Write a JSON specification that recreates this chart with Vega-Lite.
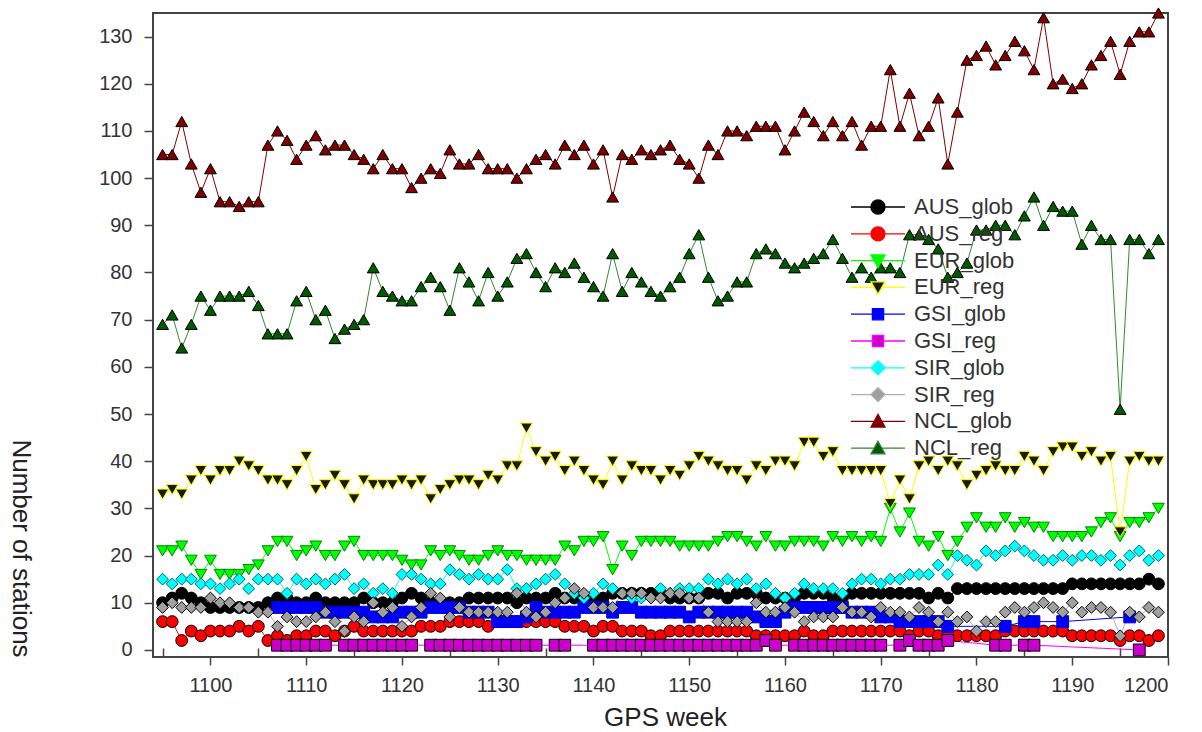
{
"$schema":"https://vega.github.io/schema/vega-lite/v6.json",
"width":1015,"height":644,
"autosize":{"type":"none"},
"padding":{"left":153,"top":13,"right":34,"bottom":75},
"background":"white",
"config":{
 "view":{"stroke":"#444","strokeWidth":2},
 "font":"Liberation Sans",
 "axis":{"labelFont":"Liberation Sans","titleFont":"Liberation Sans","labelColor":"#333","titleColor":"#222","tickColor":"#444","tickWidth":1.5,"domain":false,"grid":false,"labelFontSize":20,"titleFontSize":26,"titleFontWeight":"normal"},
 "legend":{"orient":"none","legendX":714,"legendY":183,"title":null,"padding":0,"symbolSize":196,"symbolStrokeWidth":1.3,"labelFont":"Liberation Sans","labelFontSize":22,"labelColor":"#333","labelOffset":25,"rowPadding":4.8}
},
"data":{"values":[
{"s":"AUS_glob","w":1095,"v":10},{"s":"AUS_glob","w":1096,"v":11},{"s":"AUS_glob","w":1097,"v":12},{"s":"AUS_glob","w":1098,"v":11},{"s":"AUS_glob","w":1099,"v":10},{"s":"AUS_glob","w":1100,"v":9},{"s":"AUS_glob","w":1101,"v":9},{"s":"AUS_glob","w":1102,"v":9},{"s":"AUS_glob","w":1103,"v":9},{"s":"AUS_glob","w":1104,"v":9},{"s":"AUS_glob","w":1105,"v":9},
{"s":"AUS_glob","w":1106,"v":10},{"s":"AUS_glob","w":1107,"v":11},{"s":"AUS_glob","w":1108,"v":11},{"s":"AUS_glob","w":1109,"v":10},{"s":"AUS_glob","w":1110,"v":10},{"s":"AUS_glob","w":1111,"v":11},{"s":"AUS_glob","w":1112,"v":10},{"s":"AUS_glob","w":1113,"v":10},{"s":"AUS_glob","w":1114,"v":10},{"s":"AUS_glob","w":1115,"v":10},
{"s":"AUS_glob","w":1116,"v":11},{"s":"AUS_glob","w":1117,"v":10},{"s":"AUS_glob","w":1118,"v":10},{"s":"AUS_glob","w":1119,"v":10},{"s":"AUS_glob","w":1120,"v":11},{"s":"AUS_glob","w":1121,"v":12},{"s":"AUS_glob","w":1122,"v":11},{"s":"AUS_glob","w":1123,"v":10},{"s":"AUS_glob","w":1124,"v":10},{"s":"AUS_glob","w":1125,"v":10},
{"s":"AUS_glob","w":1126,"v":10},{"s":"AUS_glob","w":1127,"v":11},{"s":"AUS_glob","w":1128,"v":11},{"s":"AUS_glob","w":1129,"v":11},{"s":"AUS_glob","w":1130,"v":11},{"s":"AUS_glob","w":1131,"v":11},{"s":"AUS_glob","w":1132,"v":10},{"s":"AUS_glob","w":1133,"v":11},{"s":"AUS_glob","w":1134,"v":11},{"s":"AUS_glob","w":1135,"v":11},
{"s":"AUS_glob","w":1136,"v":12},{"s":"AUS_glob","w":1137,"v":11},{"s":"AUS_glob","w":1138,"v":11},{"s":"AUS_glob","w":1139,"v":11},{"s":"AUS_glob","w":1140,"v":11},{"s":"AUS_glob","w":1141,"v":11},{"s":"AUS_glob","w":1142,"v":12},{"s":"AUS_glob","w":1143,"v":12},{"s":"AUS_glob","w":1144,"v":12},{"s":"AUS_glob","w":1145,"v":12},
{"s":"AUS_glob","w":1146,"v":12},{"s":"AUS_glob","w":1147,"v":12},{"s":"AUS_glob","w":1148,"v":11},{"s":"AUS_glob","w":1149,"v":11},{"s":"AUS_glob","w":1150,"v":11},{"s":"AUS_glob","w":1151,"v":11},{"s":"AUS_glob","w":1152,"v":12},{"s":"AUS_glob","w":1153,"v":12},{"s":"AUS_glob","w":1154,"v":11},{"s":"AUS_glob","w":1155,"v":12},
{"s":"AUS_glob","w":1156,"v":12},{"s":"AUS_glob","w":1157,"v":12},{"s":"AUS_glob","w":1158,"v":11},{"s":"AUS_glob","w":1159,"v":11},{"s":"AUS_glob","w":1160,"v":11},{"s":"AUS_glob","w":1161,"v":11},{"s":"AUS_glob","w":1162,"v":12},{"s":"AUS_glob","w":1163,"v":12},{"s":"AUS_glob","w":1164,"v":12},{"s":"AUS_glob","w":1165,"v":11},
{"s":"AUS_glob","w":1166,"v":11},{"s":"AUS_glob","w":1167,"v":12},{"s":"AUS_glob","w":1168,"v":12},{"s":"AUS_glob","w":1169,"v":12},{"s":"AUS_glob","w":1170,"v":12},{"s":"AUS_glob","w":1171,"v":12},{"s":"AUS_glob","w":1172,"v":12},{"s":"AUS_glob","w":1173,"v":12},{"s":"AUS_glob","w":1174,"v":12},{"s":"AUS_glob","w":1175,"v":11},
{"s":"AUS_glob","w":1176,"v":12},{"s":"AUS_glob","w":1177,"v":11},{"s":"AUS_glob","w":1178,"v":13},{"s":"AUS_glob","w":1179,"v":13},{"s":"AUS_glob","w":1180,"v":13},{"s":"AUS_glob","w":1181,"v":13},{"s":"AUS_glob","w":1182,"v":13},{"s":"AUS_glob","w":1183,"v":13},{"s":"AUS_glob","w":1184,"v":13},{"s":"AUS_glob","w":1185,"v":13},
{"s":"AUS_glob","w":1186,"v":13},{"s":"AUS_glob","w":1187,"v":13},{"s":"AUS_glob","w":1188,"v":13},{"s":"AUS_glob","w":1189,"v":13},{"s":"AUS_glob","w":1190,"v":14},{"s":"AUS_glob","w":1191,"v":14},{"s":"AUS_glob","w":1192,"v":14},{"s":"AUS_glob","w":1193,"v":14},{"s":"AUS_glob","w":1194,"v":14},{"s":"AUS_glob","w":1195,"v":14},
{"s":"AUS_glob","w":1196,"v":14},{"s":"AUS_glob","w":1197,"v":14},{"s":"AUS_glob","w":1198,"v":15},{"s":"AUS_glob","w":1199,"v":14},
{"s":"AUS_reg","w":1095,"v":6},{"s":"AUS_reg","w":1096,"v":6},{"s":"AUS_reg","w":1097,"v":2},{"s":"AUS_reg","w":1098,"v":4},{"s":"AUS_reg","w":1099,"v":3},{"s":"AUS_reg","w":1100,"v":4},{"s":"AUS_reg","w":1101,"v":4},{"s":"AUS_reg","w":1102,"v":4},{"s":"AUS_reg","w":1103,"v":5},{"s":"AUS_reg","w":1104,"v":4},{"s":"AUS_reg","w":1105,"v":5},
{"s":"AUS_reg","w":1106,"v":2},{"s":"AUS_reg","w":1107,"v":3},{"s":"AUS_reg","w":1108,"v":2},{"s":"AUS_reg","w":1109,"v":3},{"s":"AUS_reg","w":1110,"v":3},{"s":"AUS_reg","w":1111,"v":4},{"s":"AUS_reg","w":1112,"v":4},{"s":"AUS_reg","w":1113,"v":3},{"s":"AUS_reg","w":1114,"v":4},{"s":"AUS_reg","w":1115,"v":5},
{"s":"AUS_reg","w":1116,"v":4},{"s":"AUS_reg","w":1117,"v":4},{"s":"AUS_reg","w":1118,"v":4},{"s":"AUS_reg","w":1119,"v":4},{"s":"AUS_reg","w":1120,"v":4},{"s":"AUS_reg","w":1121,"v":4},{"s":"AUS_reg","w":1122,"v":5},{"s":"AUS_reg","w":1123,"v":5},{"s":"AUS_reg","w":1124,"v":5},{"s":"AUS_reg","w":1125,"v":6},
{"s":"AUS_reg","w":1126,"v":6},{"s":"AUS_reg","w":1127,"v":6},{"s":"AUS_reg","w":1128,"v":6},{"s":"AUS_reg","w":1129,"v":5},{"s":"AUS_reg","w":1130,"v":6},{"s":"AUS_reg","w":1131,"v":6},{"s":"AUS_reg","w":1132,"v":6},{"s":"AUS_reg","w":1133,"v":6},{"s":"AUS_reg","w":1134,"v":6},{"s":"AUS_reg","w":1135,"v":6},
{"s":"AUS_reg","w":1136,"v":6},{"s":"AUS_reg","w":1137,"v":5},{"s":"AUS_reg","w":1138,"v":5},{"s":"AUS_reg","w":1139,"v":5},{"s":"AUS_reg","w":1140,"v":4},{"s":"AUS_reg","w":1141,"v":5},{"s":"AUS_reg","w":1142,"v":5},{"s":"AUS_reg","w":1143,"v":4},{"s":"AUS_reg","w":1144,"v":4},{"s":"AUS_reg","w":1145,"v":4},
{"s":"AUS_reg","w":1146,"v":3},{"s":"AUS_reg","w":1147,"v":3},{"s":"AUS_reg","w":1148,"v":4},{"s":"AUS_reg","w":1149,"v":4},{"s":"AUS_reg","w":1150,"v":4},{"s":"AUS_reg","w":1151,"v":4},{"s":"AUS_reg","w":1152,"v":4},{"s":"AUS_reg","w":1153,"v":4},{"s":"AUS_reg","w":1154,"v":4},{"s":"AUS_reg","w":1155,"v":4},
{"s":"AUS_reg","w":1156,"v":4},{"s":"AUS_reg","w":1157,"v":3},{"s":"AUS_reg","w":1158,"v":3},{"s":"AUS_reg","w":1159,"v":3},{"s":"AUS_reg","w":1160,"v":3},{"s":"AUS_reg","w":1161,"v":3},{"s":"AUS_reg","w":1162,"v":4},{"s":"AUS_reg","w":1163,"v":3},{"s":"AUS_reg","w":1164,"v":3},{"s":"AUS_reg","w":1165,"v":4},
{"s":"AUS_reg","w":1166,"v":4},{"s":"AUS_reg","w":1167,"v":4},{"s":"AUS_reg","w":1168,"v":4},{"s":"AUS_reg","w":1169,"v":4},{"s":"AUS_reg","w":1170,"v":4},{"s":"AUS_reg","w":1171,"v":4},{"s":"AUS_reg","w":1172,"v":4},{"s":"AUS_reg","w":1173,"v":3},{"s":"AUS_reg","w":1174,"v":4},{"s":"AUS_reg","w":1175,"v":4},
{"s":"AUS_reg","w":1176,"v":3},{"s":"AUS_reg","w":1177,"v":3},{"s":"AUS_reg","w":1178,"v":3},{"s":"AUS_reg","w":1179,"v":3},{"s":"AUS_reg","w":1180,"v":3},{"s":"AUS_reg","w":1181,"v":3},{"s":"AUS_reg","w":1182,"v":3},{"s":"AUS_reg","w":1183,"v":4},{"s":"AUS_reg","w":1184,"v":4},{"s":"AUS_reg","w":1185,"v":4},
{"s":"AUS_reg","w":1186,"v":4},{"s":"AUS_reg","w":1187,"v":4},{"s":"AUS_reg","w":1188,"v":4},{"s":"AUS_reg","w":1189,"v":4},{"s":"AUS_reg","w":1190,"v":3},{"s":"AUS_reg","w":1191,"v":3},{"s":"AUS_reg","w":1192,"v":3},{"s":"AUS_reg","w":1193,"v":3},{"s":"AUS_reg","w":1194,"v":3},{"s":"AUS_reg","w":1195,"v":2},
{"s":"AUS_reg","w":1196,"v":3},{"s":"AUS_reg","w":1197,"v":3},{"s":"AUS_reg","w":1198,"v":2},{"s":"AUS_reg","w":1199,"v":3},
{"s":"EUR_glob","w":1095,"v":21},{"s":"EUR_glob","w":1096,"v":21},{"s":"EUR_glob","w":1097,"v":22},{"s":"EUR_glob","w":1098,"v":19},{"s":"EUR_glob","w":1099,"v":16},{"s":"EUR_glob","w":1100,"v":19},{"s":"EUR_glob","w":1101,"v":16},{"s":"EUR_glob","w":1102,"v":16},{"s":"EUR_glob","w":1103,"v":16},{"s":"EUR_glob","w":1104,"v":17},{"s":"EUR_glob","w":1105,"v":18},
{"s":"EUR_glob","w":1106,"v":21},{"s":"EUR_glob","w":1107,"v":23},{"s":"EUR_glob","w":1108,"v":23},{"s":"EUR_glob","w":1109,"v":20},{"s":"EUR_glob","w":1110,"v":21},{"s":"EUR_glob","w":1111,"v":22},{"s":"EUR_glob","w":1112,"v":20},{"s":"EUR_glob","w":1113,"v":20},{"s":"EUR_glob","w":1114,"v":22},{"s":"EUR_glob","w":1115,"v":23},
{"s":"EUR_glob","w":1116,"v":20},{"s":"EUR_glob","w":1117,"v":20},{"s":"EUR_glob","w":1118,"v":20},{"s":"EUR_glob","w":1119,"v":20},{"s":"EUR_glob","w":1120,"v":19},{"s":"EUR_glob","w":1121,"v":18},{"s":"EUR_glob","w":1122,"v":18},{"s":"EUR_glob","w":1123,"v":21},{"s":"EUR_glob","w":1124,"v":20},{"s":"EUR_glob","w":1125,"v":21},
{"s":"EUR_glob","w":1126,"v":20},{"s":"EUR_glob","w":1127,"v":19},{"s":"EUR_glob","w":1128,"v":19},{"s":"EUR_glob","w":1129,"v":20},{"s":"EUR_glob","w":1130,"v":21},{"s":"EUR_glob","w":1131,"v":20},{"s":"EUR_glob","w":1132,"v":20},{"s":"EUR_glob","w":1133,"v":19},{"s":"EUR_glob","w":1134,"v":19},{"s":"EUR_glob","w":1135,"v":19},
{"s":"EUR_glob","w":1136,"v":19},{"s":"EUR_glob","w":1137,"v":22},{"s":"EUR_glob","w":1138,"v":21},{"s":"EUR_glob","w":1139,"v":23},{"s":"EUR_glob","w":1140,"v":23},{"s":"EUR_glob","w":1141,"v":24},{"s":"EUR_glob","w":1142,"v":17},{"s":"EUR_glob","w":1143,"v":22},{"s":"EUR_glob","w":1144,"v":20},{"s":"EUR_glob","w":1145,"v":23},
{"s":"EUR_glob","w":1146,"v":23},{"s":"EUR_glob","w":1147,"v":23},{"s":"EUR_glob","w":1148,"v":23},{"s":"EUR_glob","w":1149,"v":22},{"s":"EUR_glob","w":1150,"v":22},{"s":"EUR_glob","w":1151,"v":22},{"s":"EUR_glob","w":1152,"v":22},{"s":"EUR_glob","w":1153,"v":23},{"s":"EUR_glob","w":1154,"v":24},{"s":"EUR_glob","w":1155,"v":24},
{"s":"EUR_glob","w":1156,"v":23},{"s":"EUR_glob","w":1157,"v":22},{"s":"EUR_glob","w":1158,"v":24},{"s":"EUR_glob","w":1159,"v":22},{"s":"EUR_glob","w":1160,"v":22},{"s":"EUR_glob","w":1161,"v":23},{"s":"EUR_glob","w":1162,"v":23},{"s":"EUR_glob","w":1163,"v":23},{"s":"EUR_glob","w":1164,"v":22},{"s":"EUR_glob","w":1165,"v":24},
{"s":"EUR_glob","w":1166,"v":23},{"s":"EUR_glob","w":1167,"v":24},{"s":"EUR_glob","w":1168,"v":23},{"s":"EUR_glob","w":1169,"v":24},{"s":"EUR_glob","w":1170,"v":23},{"s":"EUR_glob","w":1171,"v":30},{"s":"EUR_glob","w":1172,"v":25},{"s":"EUR_glob","w":1173,"v":29},{"s":"EUR_glob","w":1174,"v":23},{"s":"EUR_glob","w":1175,"v":22},
{"s":"EUR_glob","w":1176,"v":24},{"s":"EUR_glob","w":1177,"v":20},{"s":"EUR_glob","w":1178,"v":23},{"s":"EUR_glob","w":1179,"v":26},{"s":"EUR_glob","w":1180,"v":28},{"s":"EUR_glob","w":1181,"v":26},{"s":"EUR_glob","w":1182,"v":26},{"s":"EUR_glob","w":1183,"v":28},{"s":"EUR_glob","w":1184,"v":26},{"s":"EUR_glob","w":1185,"v":27},
{"s":"EUR_glob","w":1186,"v":26},{"s":"EUR_glob","w":1187,"v":26},{"s":"EUR_glob","w":1188,"v":24},{"s":"EUR_glob","w":1189,"v":24},{"s":"EUR_glob","w":1190,"v":24},{"s":"EUR_glob","w":1191,"v":24},{"s":"EUR_glob","w":1192,"v":25},{"s":"EUR_glob","w":1193,"v":27},{"s":"EUR_glob","w":1194,"v":28},{"s":"EUR_glob","w":1195,"v":24},
{"s":"EUR_glob","w":1196,"v":27},{"s":"EUR_glob","w":1197,"v":27},{"s":"EUR_glob","w":1198,"v":28},{"s":"EUR_glob","w":1199,"v":30},
{"s":"EUR_reg","w":1095,"v":33},{"s":"EUR_reg","w":1096,"v":34},{"s":"EUR_reg","w":1097,"v":33},{"s":"EUR_reg","w":1098,"v":36},{"s":"EUR_reg","w":1099,"v":38},{"s":"EUR_reg","w":1100,"v":36},{"s":"EUR_reg","w":1101,"v":38},{"s":"EUR_reg","w":1102,"v":38},{"s":"EUR_reg","w":1103,"v":40},{"s":"EUR_reg","w":1104,"v":39},{"s":"EUR_reg","w":1105,"v":38},
{"s":"EUR_reg","w":1106,"v":36},{"s":"EUR_reg","w":1107,"v":36},{"s":"EUR_reg","w":1108,"v":35},{"s":"EUR_reg","w":1109,"v":38},{"s":"EUR_reg","w":1110,"v":41},{"s":"EUR_reg","w":1111,"v":34},{"s":"EUR_reg","w":1112,"v":35},{"s":"EUR_reg","w":1113,"v":37},{"s":"EUR_reg","w":1114,"v":35},{"s":"EUR_reg","w":1115,"v":32},
{"s":"EUR_reg","w":1116,"v":36},{"s":"EUR_reg","w":1117,"v":35},{"s":"EUR_reg","w":1118,"v":35},{"s":"EUR_reg","w":1119,"v":35},{"s":"EUR_reg","w":1120,"v":36},{"s":"EUR_reg","w":1121,"v":35},{"s":"EUR_reg","w":1122,"v":36},{"s":"EUR_reg","w":1123,"v":32},{"s":"EUR_reg","w":1124,"v":34},{"s":"EUR_reg","w":1125,"v":35},
{"s":"EUR_reg","w":1126,"v":36},{"s":"EUR_reg","w":1127,"v":36},{"s":"EUR_reg","w":1128,"v":35},{"s":"EUR_reg","w":1129,"v":37},{"s":"EUR_reg","w":1130,"v":36},{"s":"EUR_reg","w":1131,"v":39},{"s":"EUR_reg","w":1132,"v":39},{"s":"EUR_reg","w":1133,"v":47},{"s":"EUR_reg","w":1134,"v":42},{"s":"EUR_reg","w":1135,"v":40},
{"s":"EUR_reg","w":1136,"v":41},{"s":"EUR_reg","w":1137,"v":38},{"s":"EUR_reg","w":1138,"v":40},{"s":"EUR_reg","w":1139,"v":38},{"s":"EUR_reg","w":1140,"v":36},{"s":"EUR_reg","w":1141,"v":35},{"s":"EUR_reg","w":1142,"v":40},{"s":"EUR_reg","w":1143,"v":36},{"s":"EUR_reg","w":1144,"v":39},{"s":"EUR_reg","w":1145,"v":38},
{"s":"EUR_reg","w":1146,"v":38},{"s":"EUR_reg","w":1147,"v":36},{"s":"EUR_reg","w":1148,"v":38},{"s":"EUR_reg","w":1149,"v":37},{"s":"EUR_reg","w":1150,"v":39},{"s":"EUR_reg","w":1151,"v":41},{"s":"EUR_reg","w":1152,"v":40},{"s":"EUR_reg","w":1153,"v":39},{"s":"EUR_reg","w":1154,"v":38},{"s":"EUR_reg","w":1155,"v":38},
{"s":"EUR_reg","w":1156,"v":36},{"s":"EUR_reg","w":1157,"v":39},{"s":"EUR_reg","w":1158,"v":38},{"s":"EUR_reg","w":1159,"v":40},{"s":"EUR_reg","w":1160,"v":40},{"s":"EUR_reg","w":1161,"v":39},{"s":"EUR_reg","w":1162,"v":44},{"s":"EUR_reg","w":1163,"v":44},{"s":"EUR_reg","w":1164,"v":41},{"s":"EUR_reg","w":1165,"v":42},
{"s":"EUR_reg","w":1166,"v":38},{"s":"EUR_reg","w":1167,"v":38},{"s":"EUR_reg","w":1168,"v":38},{"s":"EUR_reg","w":1169,"v":38},{"s":"EUR_reg","w":1170,"v":38},{"s":"EUR_reg","w":1171,"v":31},{"s":"EUR_reg","w":1172,"v":36},{"s":"EUR_reg","w":1173,"v":32},{"s":"EUR_reg","w":1174,"v":39},{"s":"EUR_reg","w":1175,"v":40},
{"s":"EUR_reg","w":1176,"v":38},{"s":"EUR_reg","w":1177,"v":40},{"s":"EUR_reg","w":1178,"v":39},{"s":"EUR_reg","w":1179,"v":35},{"s":"EUR_reg","w":1180,"v":37},{"s":"EUR_reg","w":1181,"v":38},{"s":"EUR_reg","w":1182,"v":39},{"s":"EUR_reg","w":1183,"v":38},{"s":"EUR_reg","w":1184,"v":38},{"s":"EUR_reg","w":1185,"v":41},
{"s":"EUR_reg","w":1186,"v":40},{"s":"EUR_reg","w":1187,"v":38},{"s":"EUR_reg","w":1188,"v":42},{"s":"EUR_reg","w":1189,"v":43},{"s":"EUR_reg","w":1190,"v":43},{"s":"EUR_reg","w":1191,"v":41},{"s":"EUR_reg","w":1192,"v":42},{"s":"EUR_reg","w":1193,"v":40},{"s":"EUR_reg","w":1194,"v":41},{"s":"EUR_reg","w":1195,"v":25},
{"s":"EUR_reg","w":1196,"v":40},{"s":"EUR_reg","w":1197,"v":41},{"s":"EUR_reg","w":1198,"v":40},{"s":"EUR_reg","w":1199,"v":40},
{"s":"GSI_glob","w":1107,"v":9},{"s":"GSI_glob","w":1108,"v":9},{"s":"GSI_glob","w":1109,"v":9},{"s":"GSI_glob","w":1110,"v":9},{"s":"GSI_glob","w":1111,"v":9},{"s":"GSI_glob","w":1112,"v":8},{"s":"GSI_glob","w":1113,"v":8},{"s":"GSI_glob","w":1114,"v":8},{"s":"GSI_glob","w":1115,"v":8},{"s":"GSI_glob","w":1116,"v":8},
{"s":"GSI_glob","w":1117,"v":7},{"s":"GSI_glob","w":1118,"v":7},{"s":"GSI_glob","w":1119,"v":7},{"s":"GSI_glob","w":1120,"v":8},{"s":"GSI_glob","w":1121,"v":8},{"s":"GSI_glob","w":1122,"v":8},{"s":"GSI_glob","w":1123,"v":9},{"s":"GSI_glob","w":1124,"v":9},{"s":"GSI_glob","w":1125,"v":9},{"s":"GSI_glob","w":1126,"v":9},
{"s":"GSI_glob","w":1127,"v":8},{"s":"GSI_glob","w":1128,"v":8},{"s":"GSI_glob","w":1129,"v":8},{"s":"GSI_glob","w":1130,"v":6},{"s":"GSI_glob","w":1131,"v":6},{"s":"GSI_glob","w":1132,"v":6},{"s":"GSI_glob","w":1133,"v":7},{"s":"GSI_glob","w":1134,"v":9},{"s":"GSI_glob","w":1135,"v":8},{"s":"GSI_glob","w":1136,"v":8},
{"s":"GSI_glob","w":1137,"v":8},{"s":"GSI_glob","w":1138,"v":8},{"s":"GSI_glob","w":1139,"v":9},{"s":"GSI_glob","w":1140,"v":9},{"s":"GSI_glob","w":1141,"v":9},{"s":"GSI_glob","w":1142,"v":8},{"s":"GSI_glob","w":1143,"v":9},{"s":"GSI_glob","w":1144,"v":9},{"s":"GSI_glob","w":1145,"v":8},{"s":"GSI_glob","w":1146,"v":8},
{"s":"GSI_glob","w":1147,"v":8},{"s":"GSI_glob","w":1148,"v":8},{"s":"GSI_glob","w":1149,"v":8},{"s":"GSI_glob","w":1150,"v":7},{"s":"GSI_glob","w":1151,"v":8},{"s":"GSI_glob","w":1152,"v":8},{"s":"GSI_glob","w":1153,"v":8},{"s":"GSI_glob","w":1154,"v":8},{"s":"GSI_glob","w":1155,"v":8},{"s":"GSI_glob","w":1156,"v":8},
{"s":"GSI_glob","w":1157,"v":7},{"s":"GSI_glob","w":1158,"v":6},{"s":"GSI_glob","w":1159,"v":6},{"s":"GSI_glob","w":1160,"v":8},{"s":"GSI_glob","w":1161,"v":9},{"s":"GSI_glob","w":1162,"v":9},{"s":"GSI_glob","w":1163,"v":9},{"s":"GSI_glob","w":1164,"v":9},{"s":"GSI_glob","w":1165,"v":9},{"s":"GSI_glob","w":1166,"v":9},
{"s":"GSI_glob","w":1167,"v":8},{"s":"GSI_glob","w":1168,"v":8},{"s":"GSI_glob","w":1169,"v":8},{"s":"GSI_glob","w":1170,"v":7},{"s":"GSI_glob","w":1171,"v":7},{"s":"GSI_glob","w":1172,"v":6},{"s":"GSI_glob","w":1173,"v":6},{"s":"GSI_glob","w":1174,"v":6},{"s":"GSI_glob","w":1175,"v":6},{"s":"GSI_glob","w":1176,"v":6},
{"s":"GSI_glob","w":1177,"v":5},{"s":"GSI_glob","w":1183,"v":5},{"s":"GSI_glob","w":1185,"v":6},{"s":"GSI_glob","w":1186,"v":6},{"s":"GSI_glob","w":1189,"v":6},{"s":"GSI_glob","w":1196,"v":7},
{"s":"GSI_reg","w":1107,"v":1},{"s":"GSI_reg","w":1108,"v":1},{"s":"GSI_reg","w":1109,"v":1},{"s":"GSI_reg","w":1110,"v":1},{"s":"GSI_reg","w":1111,"v":1},{"s":"GSI_reg","w":1112,"v":1},
{"s":"GSI_reg","w":1114,"v":1},{"s":"GSI_reg","w":1115,"v":1},{"s":"GSI_reg","w":1116,"v":1},{"s":"GSI_reg","w":1117,"v":1},{"s":"GSI_reg","w":1118,"v":1},{"s":"GSI_reg","w":1119,"v":1},{"s":"GSI_reg","w":1120,"v":1},{"s":"GSI_reg","w":1121,"v":1},
{"s":"GSI_reg","w":1123,"v":1},{"s":"GSI_reg","w":1124,"v":1},{"s":"GSI_reg","w":1125,"v":1},{"s":"GSI_reg","w":1126,"v":1},{"s":"GSI_reg","w":1127,"v":1},{"s":"GSI_reg","w":1128,"v":1},{"s":"GSI_reg","w":1129,"v":1},{"s":"GSI_reg","w":1130,"v":1},{"s":"GSI_reg","w":1131,"v":1},{"s":"GSI_reg","w":1132,"v":1},{"s":"GSI_reg","w":1133,"v":1},{"s":"GSI_reg","w":1134,"v":1},
{"s":"GSI_reg","w":1136,"v":1},{"s":"GSI_reg","w":1137,"v":1},
{"s":"GSI_reg","w":1140,"v":1},{"s":"GSI_reg","w":1141,"v":1},{"s":"GSI_reg","w":1142,"v":1},{"s":"GSI_reg","w":1143,"v":1},{"s":"GSI_reg","w":1144,"v":1},{"s":"GSI_reg","w":1145,"v":1},{"s":"GSI_reg","w":1146,"v":1},{"s":"GSI_reg","w":1147,"v":1},{"s":"GSI_reg","w":1148,"v":1},{"s":"GSI_reg","w":1149,"v":1},{"s":"GSI_reg","w":1150,"v":1},{"s":"GSI_reg","w":1151,"v":1},{"s":"GSI_reg","w":1152,"v":1},{"s":"GSI_reg","w":1153,"v":1},{"s":"GSI_reg","w":1154,"v":1},{"s":"GSI_reg","w":1155,"v":1},{"s":"GSI_reg","w":1156,"v":1},{"s":"GSI_reg","w":1157,"v":1},
{"s":"GSI_reg","w":1158,"v":2},{"s":"GSI_reg","w":1159,"v":1},
{"s":"GSI_reg","w":1161,"v":1},{"s":"GSI_reg","w":1162,"v":1},{"s":"GSI_reg","w":1163,"v":1},{"s":"GSI_reg","w":1164,"v":1},{"s":"GSI_reg","w":1165,"v":1},{"s":"GSI_reg","w":1166,"v":1},{"s":"GSI_reg","w":1167,"v":1},{"s":"GSI_reg","w":1168,"v":1},{"s":"GSI_reg","w":1169,"v":1},{"s":"GSI_reg","w":1170,"v":1},
{"s":"GSI_reg","w":1172,"v":1},{"s":"GSI_reg","w":1173,"v":2},{"s":"GSI_reg","w":1174,"v":1},{"s":"GSI_reg","w":1175,"v":1},{"s":"GSI_reg","w":1176,"v":1},{"s":"GSI_reg","w":1177,"v":2},
{"s":"GSI_reg","w":1182,"v":1},{"s":"GSI_reg","w":1183,"v":1},{"s":"GSI_reg","w":1185,"v":1},{"s":"GSI_reg","w":1186,"v":1},{"s":"GSI_reg","w":1197,"v":0},
{"s":"SIR_glob","w":1095,"v":15},{"s":"SIR_glob","w":1096,"v":14},{"s":"SIR_glob","w":1097,"v":15},{"s":"SIR_glob","w":1098,"v":15},{"s":"SIR_glob","w":1099,"v":14},{"s":"SIR_glob","w":1100,"v":14},{"s":"SIR_glob","w":1101,"v":13},{"s":"SIR_glob","w":1102,"v":14},{"s":"SIR_glob","w":1103,"v":15},{"s":"SIR_glob","w":1104,"v":13},{"s":"SIR_glob","w":1105,"v":15},
{"s":"SIR_glob","w":1106,"v":15},{"s":"SIR_glob","w":1107,"v":15},{"s":"SIR_glob","w":1108,"v":12},{"s":"SIR_glob","w":1109,"v":15},{"s":"SIR_glob","w":1110,"v":14},{"s":"SIR_glob","w":1111,"v":15},{"s":"SIR_glob","w":1112,"v":14},{"s":"SIR_glob","w":1113,"v":15},{"s":"SIR_glob","w":1114,"v":16},{"s":"SIR_glob","w":1115,"v":13},
{"s":"SIR_glob","w":1116,"v":14},{"s":"SIR_glob","w":1117,"v":12},{"s":"SIR_glob","w":1118,"v":13},{"s":"SIR_glob","w":1119,"v":12},{"s":"SIR_glob","w":1120,"v":16},{"s":"SIR_glob","w":1121,"v":16},{"s":"SIR_glob","w":1122,"v":15},{"s":"SIR_glob","w":1123,"v":14},{"s":"SIR_glob","w":1124,"v":14},{"s":"SIR_glob","w":1125,"v":17},
{"s":"SIR_glob","w":1126,"v":16},{"s":"SIR_glob","w":1127,"v":15},{"s":"SIR_glob","w":1128,"v":16},{"s":"SIR_glob","w":1129,"v":15},{"s":"SIR_glob","w":1130,"v":15},{"s":"SIR_glob","w":1131,"v":17},{"s":"SIR_glob","w":1132,"v":13},{"s":"SIR_glob","w":1133,"v":13},{"s":"SIR_glob","w":1134,"v":14},{"s":"SIR_glob","w":1135,"v":15},
{"s":"SIR_glob","w":1136,"v":16},{"s":"SIR_glob","w":1137,"v":14},{"s":"SIR_glob","w":1138,"v":12},{"s":"SIR_glob","w":1139,"v":11},{"s":"SIR_glob","w":1140,"v":12},{"s":"SIR_glob","w":1141,"v":14},{"s":"SIR_glob","w":1142,"v":13},{"s":"SIR_glob","w":1143,"v":12},{"s":"SIR_glob","w":1144,"v":11},{"s":"SIR_glob","w":1145,"v":11},
{"s":"SIR_glob","w":1146,"v":11},{"s":"SIR_glob","w":1147,"v":13},{"s":"SIR_glob","w":1148,"v":12},{"s":"SIR_glob","w":1149,"v":13},{"s":"SIR_glob","w":1150,"v":13},{"s":"SIR_glob","w":1151,"v":13},{"s":"SIR_glob","w":1152,"v":15},{"s":"SIR_glob","w":1153,"v":14},{"s":"SIR_glob","w":1154,"v":15},{"s":"SIR_glob","w":1155,"v":14},
{"s":"SIR_glob","w":1156,"v":15},{"s":"SIR_glob","w":1157,"v":13},{"s":"SIR_glob","w":1158,"v":14},{"s":"SIR_glob","w":1159,"v":12},{"s":"SIR_glob","w":1160,"v":11},{"s":"SIR_glob","w":1161,"v":12},{"s":"SIR_glob","w":1162,"v":14},{"s":"SIR_glob","w":1163,"v":13},{"s":"SIR_glob","w":1164,"v":13},{"s":"SIR_glob","w":1165,"v":13},
{"s":"SIR_glob","w":1166,"v":12},{"s":"SIR_glob","w":1167,"v":14},{"s":"SIR_glob","w":1168,"v":15},{"s":"SIR_glob","w":1169,"v":15},{"s":"SIR_glob","w":1170,"v":14},{"s":"SIR_glob","w":1171,"v":15},{"s":"SIR_glob","w":1172,"v":15},{"s":"SIR_glob","w":1173,"v":16},{"s":"SIR_glob","w":1174,"v":16},{"s":"SIR_glob","w":1175,"v":16},
{"s":"SIR_glob","w":1176,"v":18},{"s":"SIR_glob","w":1177,"v":16},{"s":"SIR_glob","w":1178,"v":20},{"s":"SIR_glob","w":1179,"v":19},{"s":"SIR_glob","w":1180,"v":18},{"s":"SIR_glob","w":1181,"v":21},{"s":"SIR_glob","w":1182,"v":20},{"s":"SIR_glob","w":1183,"v":21},{"s":"SIR_glob","w":1184,"v":22},{"s":"SIR_glob","w":1185,"v":21},
{"s":"SIR_glob","w":1186,"v":20},{"s":"SIR_glob","w":1187,"v":19},{"s":"SIR_glob","w":1188,"v":19},{"s":"SIR_glob","w":1189,"v":20},{"s":"SIR_glob","w":1190,"v":19},{"s":"SIR_glob","w":1191,"v":20},{"s":"SIR_glob","w":1192,"v":20},{"s":"SIR_glob","w":1193,"v":19},{"s":"SIR_glob","w":1194,"v":20},{"s":"SIR_glob","w":1195,"v":18},
{"s":"SIR_glob","w":1196,"v":20},{"s":"SIR_glob","w":1197,"v":21},{"s":"SIR_glob","w":1198,"v":19},{"s":"SIR_glob","w":1199,"v":20},
{"s":"SIR_reg","w":1095,"v":9},{"s":"SIR_reg","w":1096,"v":10},{"s":"SIR_reg","w":1097,"v":9},{"s":"SIR_reg","w":1098,"v":9},{"s":"SIR_reg","w":1099,"v":9},{"s":"SIR_reg","w":1100,"v":11},{"s":"SIR_reg","w":1101,"v":10},{"s":"SIR_reg","w":1102,"v":10},{"s":"SIR_reg","w":1103,"v":9},{"s":"SIR_reg","w":1104,"v":9},{"s":"SIR_reg","w":1105,"v":8},
{"s":"SIR_reg","w":1106,"v":8},{"s":"SIR_reg","w":1107,"v":5},{"s":"SIR_reg","w":1108,"v":7},{"s":"SIR_reg","w":1109,"v":6},{"s":"SIR_reg","w":1110,"v":6},{"s":"SIR_reg","w":1111,"v":7},{"s":"SIR_reg","w":1112,"v":8},{"s":"SIR_reg","w":1113,"v":6},{"s":"SIR_reg","w":1114,"v":4},{"s":"SIR_reg","w":1115,"v":7},
{"s":"SIR_reg","w":1116,"v":6},{"s":"SIR_reg","w":1117,"v":10},{"s":"SIR_reg","w":1118,"v":8},{"s":"SIR_reg","w":1119,"v":9},{"s":"SIR_reg","w":1120,"v":5},{"s":"SIR_reg","w":1121,"v":7},{"s":"SIR_reg","w":1122,"v":9},{"s":"SIR_reg","w":1123,"v":12},{"s":"SIR_reg","w":1124,"v":11},{"s":"SIR_reg","w":1125,"v":7},
{"s":"SIR_reg","w":1126,"v":9},{"s":"SIR_reg","w":1127,"v":8},{"s":"SIR_reg","w":1128,"v":8},{"s":"SIR_reg","w":1129,"v":8},{"s":"SIR_reg","w":1130,"v":8},{"s":"SIR_reg","w":1131,"v":8},{"s":"SIR_reg","w":1132,"v":12},{"s":"SIR_reg","w":1133,"v":8},{"s":"SIR_reg","w":1134,"v":7},{"s":"SIR_reg","w":1135,"v":8},
{"s":"SIR_reg","w":1136,"v":10},{"s":"SIR_reg","w":1137,"v":11},{"s":"SIR_reg","w":1138,"v":13},{"s":"SIR_reg","w":1139,"v":12},{"s":"SIR_reg","w":1140,"v":9},{"s":"SIR_reg","w":1141,"v":9},{"s":"SIR_reg","w":1142,"v":9},{"s":"SIR_reg","w":1143,"v":12},{"s":"SIR_reg","w":1144,"v":12},{"s":"SIR_reg","w":1145,"v":12},
{"s":"SIR_reg","w":1146,"v":11},{"s":"SIR_reg","w":1147,"v":11},{"s":"SIR_reg","w":1148,"v":12},{"s":"SIR_reg","w":1149,"v":12},{"s":"SIR_reg","w":1150,"v":11},{"s":"SIR_reg","w":1151,"v":11},{"s":"SIR_reg","w":1152,"v":8},{"s":"SIR_reg","w":1153,"v":6},{"s":"SIR_reg","w":1154,"v":6},{"s":"SIR_reg","w":1155,"v":6},
{"s":"SIR_reg","w":1156,"v":6},{"s":"SIR_reg","w":1157,"v":10},{"s":"SIR_reg","w":1158,"v":8},{"s":"SIR_reg","w":1159,"v":8},{"s":"SIR_reg","w":1160,"v":9},{"s":"SIR_reg","w":1161,"v":8},{"s":"SIR_reg","w":1162,"v":6},{"s":"SIR_reg","w":1163,"v":7},{"s":"SIR_reg","w":1164,"v":7},{"s":"SIR_reg","w":1165,"v":7},
{"s":"SIR_reg","w":1166,"v":9},{"s":"SIR_reg","w":1167,"v":8},{"s":"SIR_reg","w":1168,"v":8},{"s":"SIR_reg","w":1169,"v":7},{"s":"SIR_reg","w":1170,"v":9},{"s":"SIR_reg","w":1171,"v":8},{"s":"SIR_reg","w":1172,"v":8},{"s":"SIR_reg","w":1173,"v":7},{"s":"SIR_reg","w":1174,"v":9},{"s":"SIR_reg","w":1175,"v":8},
{"s":"SIR_reg","w":1176,"v":6},{"s":"SIR_reg","w":1177,"v":8},{"s":"SIR_reg","w":1178,"v":6},{"s":"SIR_reg","w":1179,"v":7},{"s":"SIR_reg","w":1180,"v":4},{"s":"SIR_reg","w":1181,"v":6},{"s":"SIR_reg","w":1182,"v":6},{"s":"SIR_reg","w":1183,"v":8},{"s":"SIR_reg","w":1184,"v":9},{"s":"SIR_reg","w":1185,"v":8},
{"s":"SIR_reg","w":1186,"v":9},{"s":"SIR_reg","w":1187,"v":10},{"s":"SIR_reg","w":1188,"v":9},{"s":"SIR_reg","w":1189,"v":8},{"s":"SIR_reg","w":1190,"v":10},{"s":"SIR_reg","w":1191,"v":8},{"s":"SIR_reg","w":1192,"v":9},{"s":"SIR_reg","w":1193,"v":9},{"s":"SIR_reg","w":1194,"v":8},{"s":"SIR_reg","w":1195,"v":3},
{"s":"SIR_reg","w":1196,"v":8},{"s":"SIR_reg","w":1197,"v":7},{"s":"SIR_reg","w":1198,"v":9},{"s":"SIR_reg","w":1199,"v":8},
{"s":"NCL_glob","w":1095,"v":105},{"s":"NCL_glob","w":1096,"v":105},{"s":"NCL_glob","w":1097,"v":112},{"s":"NCL_glob","w":1098,"v":103},{"s":"NCL_glob","w":1099,"v":97},{"s":"NCL_glob","w":1100,"v":102},{"s":"NCL_glob","w":1101,"v":95},{"s":"NCL_glob","w":1102,"v":95},{"s":"NCL_glob","w":1103,"v":94},{"s":"NCL_glob","w":1104,"v":95},{"s":"NCL_glob","w":1105,"v":95},
{"s":"NCL_glob","w":1106,"v":107},{"s":"NCL_glob","w":1107,"v":110},{"s":"NCL_glob","w":1108,"v":108},{"s":"NCL_glob","w":1109,"v":104},{"s":"NCL_glob","w":1110,"v":107},{"s":"NCL_glob","w":1111,"v":109},{"s":"NCL_glob","w":1112,"v":106},{"s":"NCL_glob","w":1113,"v":107},{"s":"NCL_glob","w":1114,"v":107},{"s":"NCL_glob","w":1115,"v":105},
{"s":"NCL_glob","w":1116,"v":104},{"s":"NCL_glob","w":1117,"v":102},{"s":"NCL_glob","w":1118,"v":105},{"s":"NCL_glob","w":1119,"v":102},{"s":"NCL_glob","w":1120,"v":102},{"s":"NCL_glob","w":1121,"v":98},{"s":"NCL_glob","w":1122,"v":100},{"s":"NCL_glob","w":1123,"v":102},{"s":"NCL_glob","w":1124,"v":101},{"s":"NCL_glob","w":1125,"v":106},
{"s":"NCL_glob","w":1126,"v":103},{"s":"NCL_glob","w":1127,"v":103},{"s":"NCL_glob","w":1128,"v":105},{"s":"NCL_glob","w":1129,"v":102},{"s":"NCL_glob","w":1130,"v":102},{"s":"NCL_glob","w":1131,"v":102},{"s":"NCL_glob","w":1132,"v":100},{"s":"NCL_glob","w":1133,"v":102},{"s":"NCL_glob","w":1134,"v":104},{"s":"NCL_glob","w":1135,"v":105},
{"s":"NCL_glob","w":1136,"v":103},{"s":"NCL_glob","w":1137,"v":107},{"s":"NCL_glob","w":1138,"v":105},{"s":"NCL_glob","w":1139,"v":107},{"s":"NCL_glob","w":1140,"v":103},{"s":"NCL_glob","w":1141,"v":106},{"s":"NCL_glob","w":1142,"v":96},{"s":"NCL_glob","w":1143,"v":105},{"s":"NCL_glob","w":1144,"v":104},{"s":"NCL_glob","w":1145,"v":106},
{"s":"NCL_glob","w":1146,"v":105},{"s":"NCL_glob","w":1147,"v":106},{"s":"NCL_glob","w":1148,"v":107},{"s":"NCL_glob","w":1149,"v":104},{"s":"NCL_glob","w":1150,"v":103},{"s":"NCL_glob","w":1151,"v":100},{"s":"NCL_glob","w":1152,"v":107},{"s":"NCL_glob","w":1153,"v":105},{"s":"NCL_glob","w":1154,"v":110},{"s":"NCL_glob","w":1155,"v":110},
{"s":"NCL_glob","w":1156,"v":109},{"s":"NCL_glob","w":1157,"v":111},{"s":"NCL_glob","w":1158,"v":111},{"s":"NCL_glob","w":1159,"v":111},{"s":"NCL_glob","w":1160,"v":106},{"s":"NCL_glob","w":1161,"v":110},{"s":"NCL_glob","w":1162,"v":114},{"s":"NCL_glob","w":1163,"v":112},{"s":"NCL_glob","w":1164,"v":109},{"s":"NCL_glob","w":1165,"v":112},
{"s":"NCL_glob","w":1166,"v":109},{"s":"NCL_glob","w":1167,"v":112},{"s":"NCL_glob","w":1168,"v":107},{"s":"NCL_glob","w":1169,"v":111},{"s":"NCL_glob","w":1170,"v":111},{"s":"NCL_glob","w":1171,"v":123},{"s":"NCL_glob","w":1172,"v":111},{"s":"NCL_glob","w":1173,"v":118},{"s":"NCL_glob","w":1174,"v":109},{"s":"NCL_glob","w":1175,"v":111},
{"s":"NCL_glob","w":1176,"v":117},{"s":"NCL_glob","w":1177,"v":103},{"s":"NCL_glob","w":1178,"v":114},{"s":"NCL_glob","w":1179,"v":125},{"s":"NCL_glob","w":1180,"v":126},{"s":"NCL_glob","w":1181,"v":128},{"s":"NCL_glob","w":1182,"v":124},{"s":"NCL_glob","w":1183,"v":126},{"s":"NCL_glob","w":1184,"v":129},{"s":"NCL_glob","w":1185,"v":127},
{"s":"NCL_glob","w":1186,"v":123},{"s":"NCL_glob","w":1187,"v":134},{"s":"NCL_glob","w":1188,"v":120},{"s":"NCL_glob","w":1189,"v":121},{"s":"NCL_glob","w":1190,"v":119},{"s":"NCL_glob","w":1191,"v":120},{"s":"NCL_glob","w":1192,"v":124},{"s":"NCL_glob","w":1193,"v":126},{"s":"NCL_glob","w":1194,"v":129},{"s":"NCL_glob","w":1195,"v":122},
{"s":"NCL_glob","w":1196,"v":129},{"s":"NCL_glob","w":1197,"v":131},{"s":"NCL_glob","w":1198,"v":131},{"s":"NCL_glob","w":1199,"v":135},
{"s":"NCL_reg","w":1095,"v":69},{"s":"NCL_reg","w":1096,"v":71},{"s":"NCL_reg","w":1097,"v":64},{"s":"NCL_reg","w":1098,"v":69},{"s":"NCL_reg","w":1099,"v":75},{"s":"NCL_reg","w":1100,"v":72},{"s":"NCL_reg","w":1101,"v":75},{"s":"NCL_reg","w":1102,"v":75},{"s":"NCL_reg","w":1103,"v":75},{"s":"NCL_reg","w":1104,"v":76},{"s":"NCL_reg","w":1105,"v":73},
{"s":"NCL_reg","w":1106,"v":67},{"s":"NCL_reg","w":1107,"v":67},{"s":"NCL_reg","w":1108,"v":67},{"s":"NCL_reg","w":1109,"v":74},{"s":"NCL_reg","w":1110,"v":76},{"s":"NCL_reg","w":1111,"v":70},{"s":"NCL_reg","w":1112,"v":72},{"s":"NCL_reg","w":1113,"v":66},{"s":"NCL_reg","w":1114,"v":68},{"s":"NCL_reg","w":1115,"v":69},
{"s":"NCL_reg","w":1116,"v":70},{"s":"NCL_reg","w":1117,"v":81},{"s":"NCL_reg","w":1118,"v":76},{"s":"NCL_reg","w":1119,"v":75},{"s":"NCL_reg","w":1120,"v":74},{"s":"NCL_reg","w":1121,"v":74},{"s":"NCL_reg","w":1122,"v":77},{"s":"NCL_reg","w":1123,"v":79},{"s":"NCL_reg","w":1124,"v":77},{"s":"NCL_reg","w":1125,"v":72},
{"s":"NCL_reg","w":1126,"v":81},{"s":"NCL_reg","w":1127,"v":78},{"s":"NCL_reg","w":1128,"v":74},{"s":"NCL_reg","w":1129,"v":80},{"s":"NCL_reg","w":1130,"v":75},{"s":"NCL_reg","w":1131,"v":78},{"s":"NCL_reg","w":1132,"v":83},{"s":"NCL_reg","w":1133,"v":84},{"s":"NCL_reg","w":1134,"v":80},{"s":"NCL_reg","w":1135,"v":77},
{"s":"NCL_reg","w":1136,"v":81},{"s":"NCL_reg","w":1137,"v":80},{"s":"NCL_reg","w":1138,"v":82},{"s":"NCL_reg","w":1139,"v":79},{"s":"NCL_reg","w":1140,"v":77},{"s":"NCL_reg","w":1141,"v":75},{"s":"NCL_reg","w":1142,"v":84},{"s":"NCL_reg","w":1143,"v":76},{"s":"NCL_reg","w":1144,"v":80},{"s":"NCL_reg","w":1145,"v":78},
{"s":"NCL_reg","w":1146,"v":76},{"s":"NCL_reg","w":1147,"v":75},{"s":"NCL_reg","w":1148,"v":77},{"s":"NCL_reg","w":1149,"v":79},{"s":"NCL_reg","w":1150,"v":84},{"s":"NCL_reg","w":1151,"v":88},{"s":"NCL_reg","w":1152,"v":79},{"s":"NCL_reg","w":1153,"v":74},{"s":"NCL_reg","w":1154,"v":75},{"s":"NCL_reg","w":1155,"v":78},
{"s":"NCL_reg","w":1156,"v":78},{"s":"NCL_reg","w":1157,"v":84},{"s":"NCL_reg","w":1158,"v":85},{"s":"NCL_reg","w":1159,"v":84},{"s":"NCL_reg","w":1160,"v":82},{"s":"NCL_reg","w":1161,"v":81},{"s":"NCL_reg","w":1162,"v":82},{"s":"NCL_reg","w":1163,"v":83},{"s":"NCL_reg","w":1164,"v":84},{"s":"NCL_reg","w":1165,"v":87},
{"s":"NCL_reg","w":1166,"v":83},{"s":"NCL_reg","w":1167,"v":79},{"s":"NCL_reg","w":1168,"v":81},{"s":"NCL_reg","w":1169,"v":79},{"s":"NCL_reg","w":1170,"v":81},{"s":"NCL_reg","w":1171,"v":81},{"s":"NCL_reg","w":1172,"v":80},{"s":"NCL_reg","w":1173,"v":88},{"s":"NCL_reg","w":1174,"v":88},{"s":"NCL_reg","w":1175,"v":87},
{"s":"NCL_reg","w":1176,"v":85},{"s":"NCL_reg","w":1177,"v":79},{"s":"NCL_reg","w":1178,"v":80},{"s":"NCL_reg","w":1179,"v":82},{"s":"NCL_reg","w":1180,"v":89},{"s":"NCL_reg","w":1181,"v":89},{"s":"NCL_reg","w":1182,"v":90},{"s":"NCL_reg","w":1183,"v":90},{"s":"NCL_reg","w":1184,"v":88},{"s":"NCL_reg","w":1185,"v":92},
{"s":"NCL_reg","w":1186,"v":96},{"s":"NCL_reg","w":1187,"v":90},{"s":"NCL_reg","w":1188,"v":94},{"s":"NCL_reg","w":1189,"v":93},{"s":"NCL_reg","w":1190,"v":93},{"s":"NCL_reg","w":1191,"v":86},{"s":"NCL_reg","w":1192,"v":90},{"s":"NCL_reg","w":1193,"v":87},{"s":"NCL_reg","w":1194,"v":87},{"s":"NCL_reg","w":1195,"v":51},
{"s":"NCL_reg","w":1196,"v":87},{"s":"NCL_reg","w":1197,"v":87},{"s":"NCL_reg","w":1198,"v":84},{"s":"NCL_reg","w":1199,"v":87}
]},
"layer":[
 {"mark":{"type":"line","strokeWidth":1},
  "encoding":{
   "x":{"field":"w","type":"quantitative","scale":{"domain":[1094,1200],"nice":false,"zero":false},
        "axis":{"orient":"bottom","format":"d","values":[1100,1110,1120,1130,1140,1150,1160,1170,1180,1190,1200],"tickSize":8,"labelPadding":10,"title":"GPS week","titleX":512,"titleY":60,"titleBaseline":"middle","titleAlign":"center"}},
   "y":{"field":"v","type":"quantitative","scale":{"domain":[-1.5,135],"nice":false,"zero":false},
        "axis":{"format":"d","values":[0,10,20,30,40,50,60,70,80,90,100,110,120,130],"tickSize":9,"labelPadding":12,"title":"Number of stations","titleAngle":90,"titleX":-133,"titleY":535,"titleAlign":"center","titleBaseline":"middle"}},
   "stroke":{"field":"s","type":"nominal","legend":null,
     "scale":{"domain":["AUS_glob","AUS_reg","EUR_glob","EUR_reg","GSI_glob","GSI_reg","SIR_glob","SIR_reg","NCL_glob","NCL_reg"],
              "range":["#000000","#ff0000","#00ff00","#ffff00","#0000ff","#ff00ff","#00ffff","#b0b0b0","#800000","#2e8b2e"]}}
  }},
 {"mark":{"type":"point","filled":true,"opacity":1,"size":140,"strokeWidth":1},
  "encoding":{
   "x":{"field":"w","type":"quantitative","axis":{"orient":"bottom","values":[1095,1105,1115,1125,1135,1145,1155,1165,1175,1185,1195],"tickSize":-9,"labels":false,"title":null}},
   "y":{"field":"v","type":"quantitative",
        "axis":{"format":"d","values":[0,10,20,30,40,50,60,70,80,90,100,110,120,130],"tickSize":9,"labelPadding":12,"title":"Number of stations","titleAngle":90,"titleX":-133,"titleY":535,"titleAlign":"center","titleBaseline":"middle"}},
   "shape":{"field":"s","type":"nominal","legend":null,
     "scale":{"domain":["AUS_glob","AUS_reg","EUR_glob","EUR_reg","GSI_glob","GSI_reg","SIR_glob","SIR_reg","NCL_glob","NCL_reg"],
              "range":["circle","circle","triangle-down","triangle-down","square","square","diamond","diamond","triangle-up","triangle-up"]}},
   "fill":{"field":"s","type":"nominal","legend":null,
     "scale":{"domain":["AUS_glob","AUS_reg","EUR_glob","EUR_reg","GSI_glob","GSI_reg","SIR_glob","SIR_reg","NCL_glob","NCL_reg"],
              "range":["#000000","#ff0000","#00ff00","#1a1a00","#0000ff","#cc00cc","#00ffff","#a0a0a0","#800000","#005a00"]}},
   "stroke":{"field":"s","type":"nominal","legend":null,
     "scale":{"domain":["AUS_glob","AUS_reg","EUR_glob","EUR_reg","GSI_glob","GSI_reg","SIR_glob","SIR_reg","NCL_glob","NCL_reg"],
              "range":["#000000","#000000","#008800","#ffff00","#0000cc","#000000","#006666","#000000","#000000","#000000"]}}
  }},
 {"transform":[{"filter":"datum.v < -1000"}],
  "mark":{"type":"point","filled":true,"opacity":1,"size":196,"strokeWidth":1.3},
  "encoding":{
   "x":{"field":"w","type":"quantitative","axis":null},
   "y":{"field":"v","type":"quantitative",
        "axis":{"format":"d","values":[0,10,20,30,40,50,60,70,80,90,100,110,120,130],"tickSize":9,"labelPadding":12,"title":"Number of stations","titleAngle":90,"titleX":-133,"titleY":535,"titleAlign":"center","titleBaseline":"middle"}},
   "shape":{"field":"s","type":"nominal",
     "scale":{"domain":["AUS_glob","AUS_reg","EUR_glob","EUR_reg","GSI_glob","GSI_reg","SIR_glob","SIR_reg","NCL_glob","NCL_reg"],
              "range":["M-3.86,0H-1M1,0H3.86M-1,0A1,1,0,1,0,1,0A1,1,0,1,0,-1,0Z","M-3.86,0H-1M1,0H3.86M-1,0A1,1,0,1,0,1,0A1,1,0,1,0,-1,0Z","M-3.86,0H-0.56M0.56,0H3.86M-1,-0.8H1L0,1Z","M-3.86,0H-0.56M0.56,0H3.86M-1,-0.8H1L0,1Z","M-3.86,0H-0.8M0.8,0H3.86M-0.8,-0.8H0.8V0.8H-0.8Z","M-3.86,0H-0.8M0.8,0H3.86M-0.8,-0.8H0.8V0.8H-0.8Z","M-3.86,0H-1M1,0H3.86M0,-1L1,0L0,1L-1,0Z","M-3.86,0H-1M1,0H3.86M0,-1L1,0L0,1L-1,0Z","M-3.86,0H-0.56M0.56,0H3.86M0,-1L1,0.8H-1Z","M-3.86,0H-0.56M0.56,0H3.86M0,-1L1,0.8H-1Z"]}},
   "fill":{"field":"s","type":"nominal",
     "scale":{"domain":["AUS_glob","AUS_reg","EUR_glob","EUR_reg","GSI_glob","GSI_reg","SIR_glob","SIR_reg","NCL_glob","NCL_reg"],
              "range":["#000000","#ff0000","#00ff00","#1a1a00","#0000ff","#cc00cc","#00ffff","#a0a0a0","#800000","#005a00"]}},
   "stroke":{"field":"s","type":"nominal",
     "scale":{"domain":["AUS_glob","AUS_reg","EUR_glob","EUR_reg","GSI_glob","GSI_reg","SIR_glob","SIR_reg","NCL_glob","NCL_reg"],
              "range":["#000000","#ff0000","#00ff00","#ffff00","#0000ff","#ff00ff","#00ffff","#b0b0b0","#800000","#2e8b2e"]}}
  }}
],
"resolve":{"scale":{"shape":"independent","fill":"independent","stroke":"independent"},"axis":{"x":"independent"}}
}
